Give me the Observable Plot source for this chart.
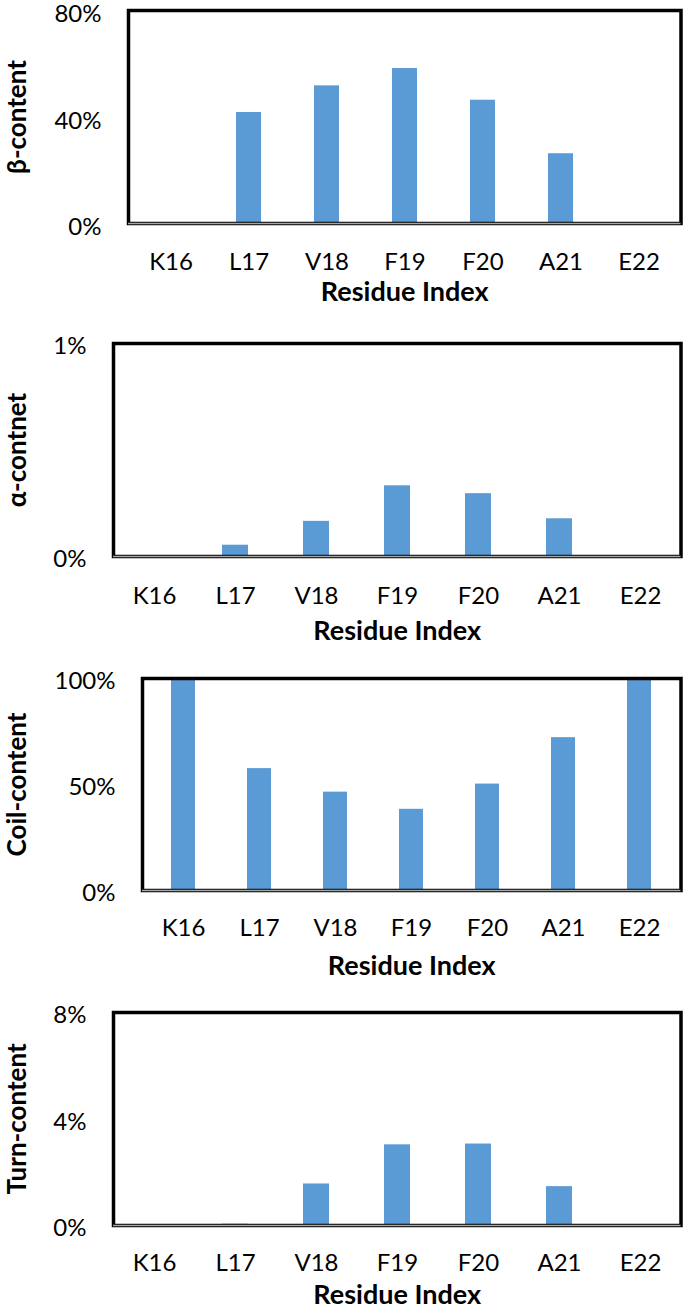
<!DOCTYPE html>
<html>
<head>
<meta charset="utf-8">
<script src="https://cdn.jsdelivr.net/npm/d3@7"></script>
<script src="https://cdn.jsdelivr.net/npm/@observablehq/plot@0.6"></script>
<style>
  html, body { margin: 0; padding: 0; background: #fff; }
  #root { position: relative; width: 684px; height: 1310px; overflow: hidden; }
  #root svg { position: absolute; left: 0; }
</style>
</head>
<body>
<div id="root"></div>
<script>
const residues = ["K16", "L17", "V18", "F19", "F20", "A21", "E22"];
const betaValues = [0, 0.417, 0.517, 0.582, 0.463, 0.262, 0];
const alphaValues = [0, 0.00053, 0.00165, 0.00332, 0.00295, 0.00177, 0];
const coilValues = [1.0, 0.575, 0.464, 0.383, 0.502, 0.721, 1.0];
const turnValues = [0, 0.0005, 0.0156, 0.0303, 0.0306, 0.0146, 0];

const betaTicks = [0, 0.4, 0.8];
const alphaTicks = [0, 0.01];
const coilTicks = [0, 0.5, 1.0];
const turnTicks = [0, 0.04, 0.08];

const xTitle = "Residue Index";
const font = "Lato, 'Open Sans', 'Noto Sans', sans-serif";

const panels = [
  {label: "β-content", values: betaValues, ticks: betaTicks, top: 0, height: 330, mt: 10, mb: 107, ml: 128, titleX: 17, tickPad: 29, titleDy: 69, tickDy: 4},
  {label: "α-contnet", values: alphaValues, ticks: alphaTicks, top: 330, height: 335, mt: 13, mb: 109, ml: 113, titleX: 17, tickPad: 30, titleDy: 75, tickDy: 3},
  {label: "Coil-content", values: coilValues, ticks: coilTicks, top: 665, height: 333, mt: 13, mb: 108, ml: 142, titleX: 17, tickPad: 28, titleDy: 76, tickDy: 3},
  {label: "Turn-content", values: turnValues, ticks: turnTicks, top: 998, height: 312, mt: 14, mb: 85, ml: 113, titleX: 17, tickPad: 28, titleDy: 70, tickDy: 3}
];

const root = document.getElementById("root");
const pct = d3.format(".0%");

for (const p of panels) {
  const data = residues.map((r, i) => ({r, v: p.values[i]}));
  const chart = Plot.plot({
    width: 684,
    height: p.height,
    marginTop: p.mt,
    marginBottom: p.mb,
    marginLeft: p.ml,
    marginRight: 3.5,
    style: {fontFamily: font, color: "#000", background: "#fff", overflow: "visible"},
    x: {type: "band", domain: residues, paddingInner: 0.68, paddingOuter: 0.34},
    y: {domain: [0, p.ticks[p.ticks.length - 1]]},
    marks: [
      Plot.barY(data, {x: "r", y: "v", fill: "#5b9bd5"}),
      Plot.frame({stroke: "black", strokeWidth: 3.5}),
      Plot.ruleY([0], {stroke: "#a6a6a6", strokeWidth: 1.5}),
      Plot.axisX({tickSize: 0, tickPadding: p.tickPad, fontSize: 24, label: null}),
      Plot.axisY({ticks: p.ticks, tickFormat: pct, tickSize: 0, tickPadding: 27, dy: p.tickDy, fontSize: 24, label: null}),
      Plot.text([xTitle], {frameAnchor: "bottom", dy: p.titleDy, fontSize: 27, fontWeight: "bold", lineAnchor: "middle"}),
      Plot.text([p.label], {frameAnchor: "left", dx: p.titleX - p.ml, rotate: -90, fontSize: 26, fontWeight: "bold", lineAnchor: "middle", textAnchor: "middle"})
    ]
  });
  chart.style.top = p.top + "px";
  root.appendChild(chart);
}
</script>
</body>
</html>
